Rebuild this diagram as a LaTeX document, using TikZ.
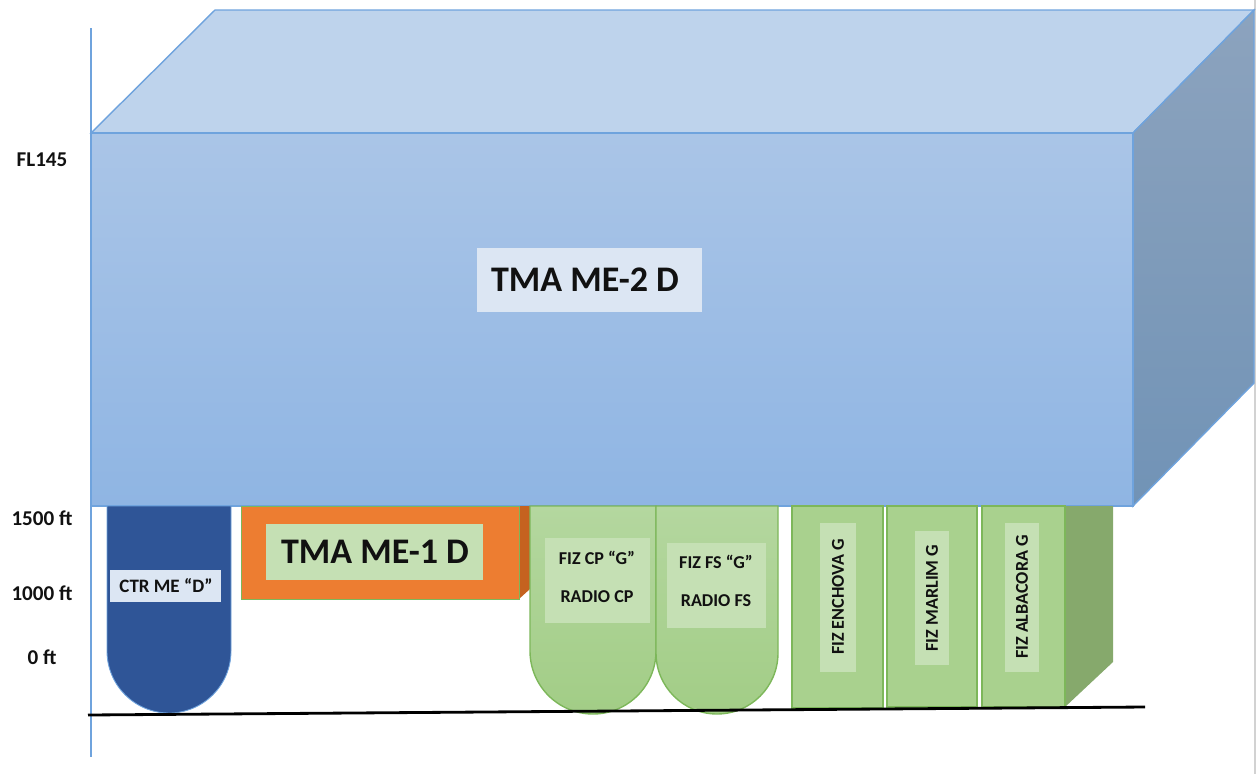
\documentclass[tikz,border=0pt]{standalone}
\usepackage{fontspec}
\setmainfont{Carlito}
\usetikzlibrary{positioning}

\definecolor{frontTop}{HTML}{AAC5E7}
\definecolor{frontBot}{HTML}{8FB5E3}
\definecolor{topFace}{HTML}{BED3EC}
\definecolor{sideTop}{HTML}{8CA3BE}
\definecolor{sideBot}{HTML}{7193B6}
\definecolor{edgeBlue}{HTML}{6FA3DD}
\definecolor{labelBlue}{HTML}{DCE6F3}
\definecolor{ctrBlue}{HTML}{2F5597}
\definecolor{tmaOrange}{HTML}{ED7D31}
\definecolor{tmaSide}{HTML}{C5621F}
\definecolor{fizGreen}{HTML}{A9D18E}
\definecolor{fizTop}{HTML}{B4D79F}
\definecolor{fizBot}{HTML}{A2CD86}
\definecolor{fizSide}{HTML}{86A96C}
\definecolor{fizEdge}{HTML}{7DB75A}
\definecolor{labelGreen}{HTML}{C5E0B4}
\definecolor{textBlack}{HTML}{111111}

\begin{document}
\begin{tikzpicture}[x=0.02cm, y=-0.02cm,
		big/.style={font=\bfseries\fontsize{20.5}{24}\selectfont, text=textBlack},
		small/.style={font=\bfseries\fontsize{10.3}{12}\selectfont, text=textBlack},
		axislbl/.style={font=\bfseries\fontsize{12}{14}\selectfont, text=textBlack}]
		\useasboundingbox (0,0) rectangle (1260,774);
		\draw[gray!35, line width=0.8pt] (1255,0) -- (1255,774);
		
		% 纵轴
		\draw[edgeBlue, line width=0.8pt] (91,28) -- (91,757);
		
		% 大立方体 TMA ME-2
		\fill[topFace, draw=edgeBlue, line width=0.8pt] (91,133) -- (215,10) -- (1254,10) -- (1133,133) -- cycle;
		\shade[top color=sideTop, bottom color=sideBot, draw=edgeBlue, line width=0.8pt] (1133,133) -- (1254,10) -- (1254,383) -- (1133,506) -- cycle;
		\shade[top color=frontTop, bottom color=frontBot, draw=edgeBlue, line width=0.8pt] (91,133) rectangle (1133,506);
		\fill[labelBlue] (477,248) rectangle (702,312);
		\node[big] (me2) at (585,280) {TMA ME-2 D};
		
		% CTR
		\fill[ctrBlue, draw=edgeBlue, line width=0.5pt] (107,506) -- (107,651) arc (180:0:62) -- (231,506) -- cycle;
		\fill[labelBlue] (110,570) rectangle (221,602);
		\node[small, font=\bfseries\fontsize{10.8}{12}\selectfont] (ctr) at (166,586) {CTR ME “D”};
		
		% TMA ME-1
		\fill[tmaSide] (519,506) -- (530,506) -- (530,589) -- (519,599) -- cycle;
		\fill[tmaOrange, draw=fizEdge, line width=0.5pt] (241,506) rectangle (519,599);
		\fill[labelGreen] (266,524) rectangle (483,580);
		\node[big] (me1) at (375,552) {TMA ME-1 D};
		
		% FIZ CP / FS
		\shade[top color=fizTop, bottom color=fizBot, draw=fizEdge, line width=0.8pt] (530,506) -- (530,651) arc (180:0:63) -- (656,506) -- cycle;
		\shade[top color=fizTop, bottom color=fizBot, draw=fizEdge, line width=0.8pt] (656,506) -- (656,653) arc (180:0:61) -- (778,506) -- cycle;
		\fill[labelGreen] (545,538) rectangle (650,623);
		\node[small] (cp1) at (597,558) {FIZ CP “G”};
		\node[small] (cp2) at (597,597) {RADIO CP};
		\fill[labelGreen] (667,543) rectangle (766,628);
		\node[small] (fs1) at (716,562) {FIZ FS “G”};
		\node[small] (fs2) at (716,601) {RADIO FS};
		
		% FIZ 竖块
		\fill[fizSide] (1065,506) -- (1113,506) -- (1113,662) -- (1065,707) -- cycle;
		\fill[fizGreen, draw=fizEdge, line width=0.8pt] (792,506) rectangle (883,708);
		\fill[fizGreen, draw=fizEdge, line width=0.8pt] (887,506) rectangle (977,707);
		\fill[fizGreen, draw=fizEdge, line width=0.8pt] (982,506) rectangle (1065,707);
		\fill[labelGreen] (820,523) rectangle (856,672);
		\node[small, rotate=90] (enchova) at (838,597) {FIZ ENCHOVA G};
		\fill[labelGreen] (915,531) rectangle (949,665);
		\node[small, rotate=90] (marlim) at (932,598) {FIZ MARLIM G};
		\fill[labelGreen] (1005,523) rectangle (1039,672);
		\node[small, rotate=90] (albacora) at (1022,597) {FIZ ALBACORA G};
		
		% 地面
		\draw[black, line width=1.6pt] (88,715) -- (1145,707);
		
		% 左侧高度标注
		\node[axislbl] (fl145) at (42,160) {FL145};
		\node[axislbl] (ft1500) at (42,518) {1500 ft};
		\node[axislbl] (ft1000) at (42,593) {1000 ft};
		\node[axislbl] (ft0) at (42,657) {0 ft};
	\end{tikzpicture}
\end{document}
